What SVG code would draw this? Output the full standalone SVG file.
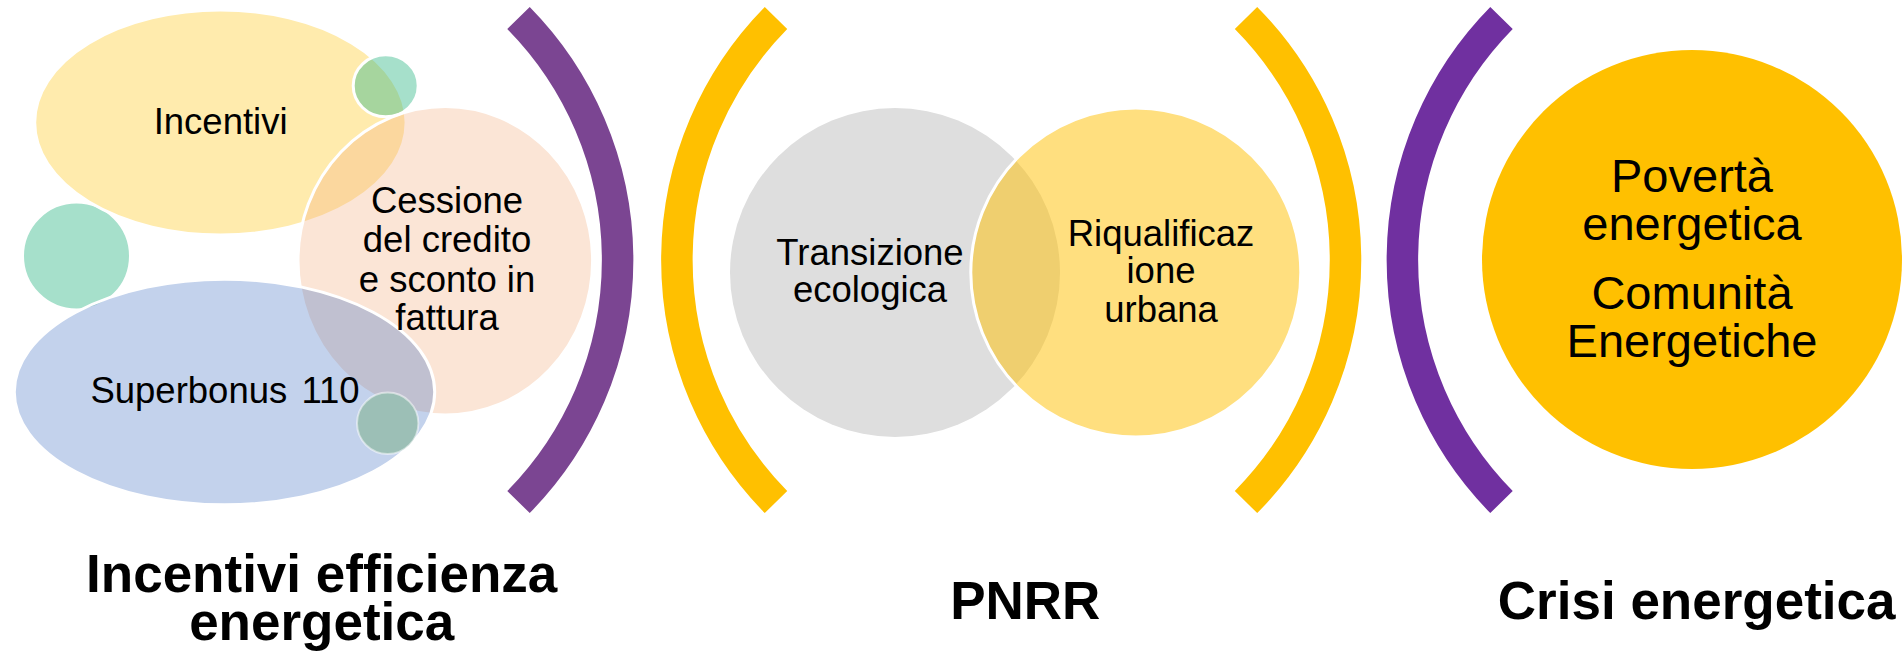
<svg xmlns="http://www.w3.org/2000/svg" width="1903" height="658" viewBox="0 0 1903 658">
  <style>
    .t { font-family: "Liberation Sans", Arial, sans-serif; fill: #000; text-anchor: middle; }
    .s { font-size: 36.5px; }
    .m { font-size: 47px; }
    .h { font-size: 53px; font-weight: bold; }
    .bub { stroke: #fff; stroke-width: 3; }
    .yel { fill: #FFC000; fill-opacity: 0.32; }
    .pea { fill: #F3AE7F; fill-opacity: 0.32; }
    .blu { fill: #4472C4; fill-opacity: 0.32; }
    .grn { fill: #39BA8B; fill-opacity: 0.45; }
    .arc { fill: none; stroke-width: 31.5; stroke-linecap: butt; }
  </style>
  <rect width="1903" height="658" fill="#fff"/>

  <g id="section-incentivi">
    <g id="node-circle-left"><ellipse class="bub grn" cx="76.5" cy="256" rx="54" ry="54"/></g>
    <g id="node-incentivi">
      <ellipse class="bub yel" cx="220.4" cy="122.5" rx="185.7" ry="112.5"/>
      <text class="t s" x="220.6" y="134.3">Incentivi</text>
    </g>
    <g id="node-circle-top"><ellipse class="bub grn" cx="385.7" cy="85.8" rx="32.5" ry="31"/></g>
    <g id="node-cessione">
      <ellipse class="bub pea" cx="445.3" cy="260.8" rx="147.3" ry="154.2"/>
    </g>
    <g id="node-superbonus">
      <ellipse class="bub blu" cx="224.5" cy="392" rx="210.2" ry="112.8"/>
    </g>
    <g id="node-circle-bottom"><ellipse fill="#9CBFB6" stroke="#fff" stroke-opacity="0.5" stroke-width="2" cx="387.7" cy="423.3" rx="30.7" ry="30.7"/></g>
    <text class="t s" x="447" y="213.3">Cessione</text>
    <text class="t s" x="447" y="251.7">del credito</text>
    <text class="t s" x="447" y="291.7">e sconto in</text>
    <text class="t s" x="447" y="330">fattura</text>
    <text class="t s" x="225" y="403.3" style="word-spacing:4px">Superbonus 110</text>
  </g>

  <g id="section-pnrr">
    <g id="node-transizione">
      <ellipse fill="#DEDEDE" cx="895" cy="272.5" rx="165" ry="164.5"/>
    </g>
    <g id="node-riqualificazione">
      <ellipse fill="#FFC000" fill-opacity="0.5" stroke="#fff" stroke-width="3" cx="1135.8" cy="272.5" rx="165" ry="164.5"/>
    </g>
    <text class="t s" x="870" y="265">Transizione</text>
    <text class="t s" x="870" y="301.7">ecologica</text>
    <text class="t s" x="1161" y="246">Riqualificaz</text>
    <text class="t s" x="1161" y="283.3">ione</text>
    <text class="t s" x="1161" y="321.7">urbana</text>
  </g>

  <g id="section-crisi">
    <g id="node-crisi">
      <ellipse fill="#FFC000" cx="1692" cy="259.5" rx="210" ry="209.5"/>
      <text class="t m" x="1692" y="191.7">Povertà</text>
      <text class="t m" x="1692" y="240">energetica</text>
      <text class="t m" x="1692" y="309">Comunità</text>
      <text class="t m" x="1692" y="356.7">Energetiche</text>
    </g>
  </g>

  <g id="connectors">
    <path class="arc" stroke="#7B4592" d="M 518.5 18 A 345 345 0 0 1 518.5 502"/>
    <path class="arc" stroke="#FFC000" d="M 776 18 A 345 345 0 0 0 776 502"/>
    <path class="arc" stroke="#FFC000" d="M 1246 18 A 344 344 0 0 1 1246 502"/>
    <path class="arc" stroke="#7030A0" d="M 1501.5 18 A 345 345 0 0 0 1501.5 502"/>
  </g>

  <g id="labels">
    <text class="t h" x="321.7" y="592.3">Incentivi efficienza</text>
    <text class="t h" x="321.7" y="640">energetica</text>
    <text class="t h" x="1025.3" y="619">PNRR</text>
    <text class="t h" x="1696.7" y="619">Crisi energetica</text>
  </g>
</svg>
